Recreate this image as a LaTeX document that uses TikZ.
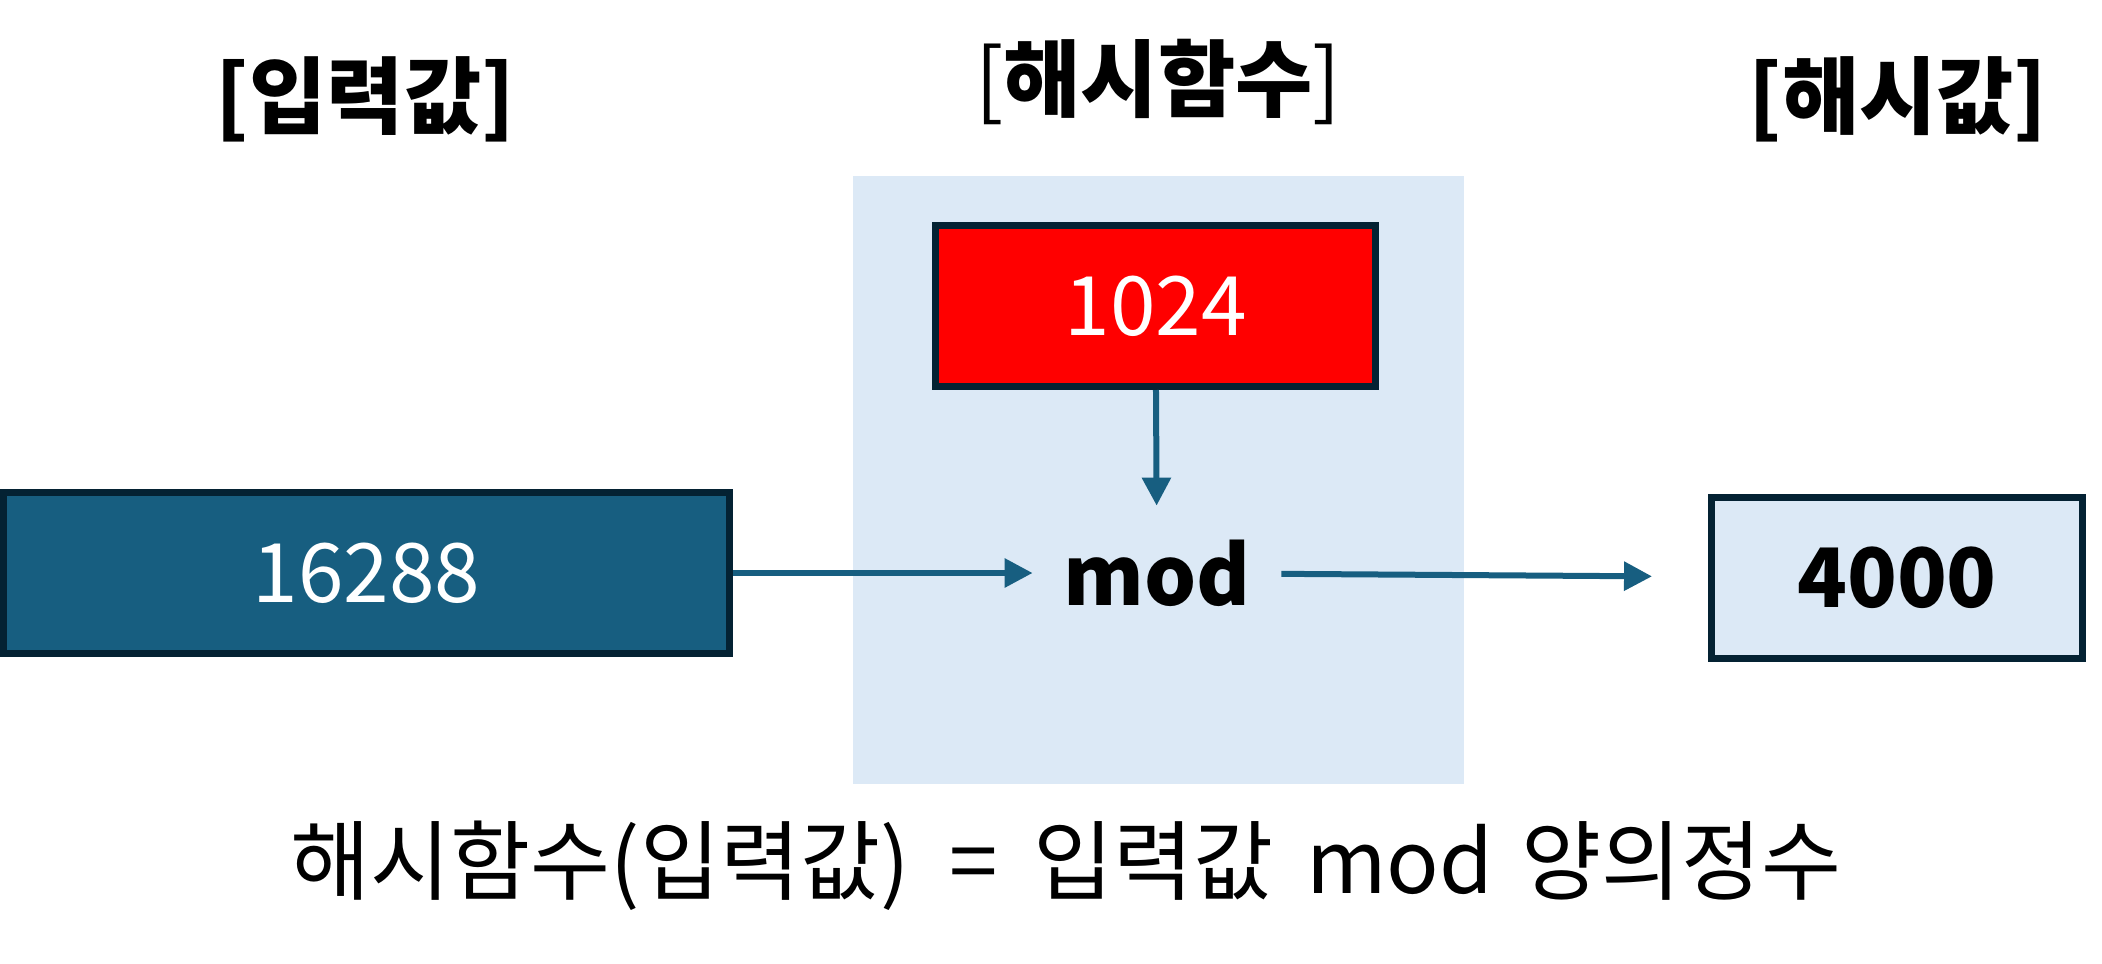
\documentclass[tikz,border=0pt]{standalone}
\usepackage{fontspec}
\setmainfont{Noto Sans CJK KR}
\usepackage{xcolor}
\usepackage{tikz}
\usetikzlibrary{arrows.meta,positioning}
\definecolor{boxteal}{RGB}{23,94,128}
\definecolor{boxline}{RGB}{4,34,51}
\definecolor{panelblue}{RGB}{220,233,246}
\tikzset{
  valbox/.style={draw=boxline, line width=3.5pt, minimum height=80.5pt, inner sep=0pt,
                 font=\fontsize{41}{48}\selectfont},
  title/.style={font=\fontsize{42}{50}\selectfont\bfseries, inner sep=0pt},
  flowarrow/.style={-{Triangle[length=14pt,width=14pt]}, line width=3pt, draw=boxteal}
}

\begin{document}
\begin{tikzpicture}[x=0.5pt, y=-0.5pt]
\useasboundingbox (0,0) rectangle (2102,963);
\node[fill=panelblue, minimum width=305.5pt, minimum height=304pt, inner sep=0pt] (panel) at (1158.5,480) {};
\node[title] (intitle) at (365.5,99) {[입력값]};
\node[title] (fntitle) at (1158,82) {{\mdseries[}해시함수{\mdseries]}};
\node[title] (outtitle) at (1898,99) {[해시값]};
\node[valbox, fill=boxteal, text=white, minimum width=363pt] (inval) at (366.5,573) {16288};
\node[valbox, fill=red, text=white, minimum width=220pt] (modulus) at (1155.5,306) {1024};
\node[minimum width=124pt, minimum height=67pt, inner sep=0pt,
      font=\fontsize{41}{48}\selectfont\bfseries] (modop) at (1157,573) {mod};
\node[valbox, fill=panelblue, minimum width=185.5pt,
      font=\fontsize{41}{48}\selectfont\bfseries] (hashval) at (1897,578) {4000};
\node[font=\fontsize{43.5}{50}\selectfont, inner sep=0pt] (formula) at (1066,866)
  {해시함수(입력값)\hspace{20pt}=\hspace{18pt}입력값\hspace{16pt}mod\hspace{14pt}양의정수};
\draw[flowarrow] (inval) -- (modop);
\draw[flowarrow] (modulus) -- (modop);
\draw[flowarrow, shorten >=28pt] (modop) -- (hashval);
\end{tikzpicture}
\end{document}
